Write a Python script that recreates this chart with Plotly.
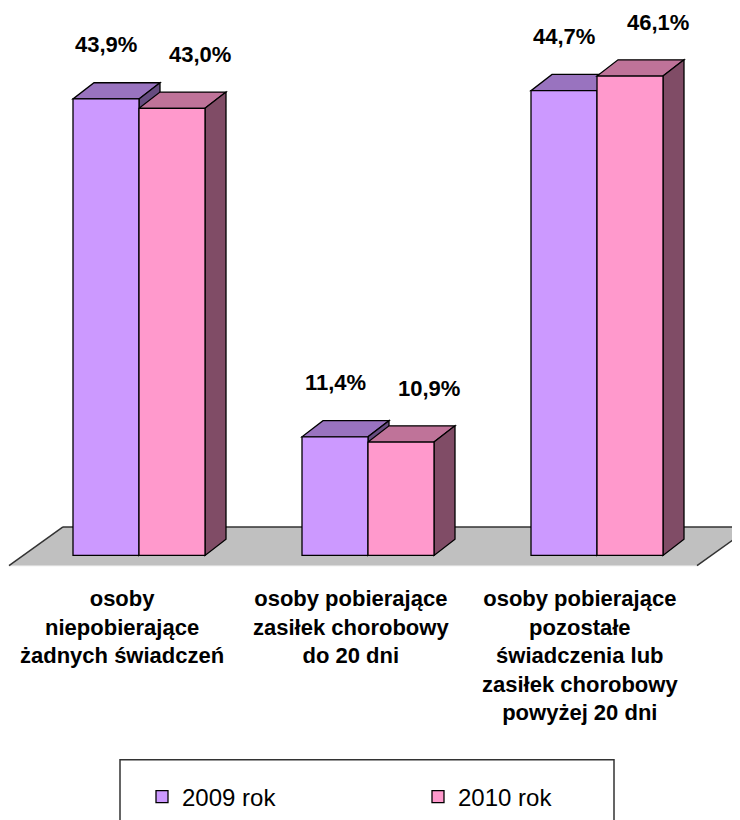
import plotly.graph_objects as go

# ---------------- data ----------------
categories = [
    "osoby<br>niepobierające<br>żadnych świadczeń",
    "osoby pobierające<br>zasiłek chorobowy<br>do 20 dni",
    "osoby pobierające<br>pozostałe<br>świadczenia lub<br>zasiłek chorobowy<br>powyżej 20 dni",
]
series_names = ["2009 rok", "2010 rok"]
values_2009 = [43.9, 11.4, 44.7]
values_2010 = [43.0, 10.9, 46.1]

# ---------------- geometry (screen pixels -> figure -> data units) ----------------
OFF = 8                       # page body margin
W, H = 740 - OFF, 820 - OFF
X0PX, XPX = 139.0 - OFF, 229.0    # figure pixel of first category, pixels per category
Y0PX, YPX = 565.0 - OFF, 10.58    # figure pixel of value 0, pixels per percent
xr = [(0 - X0PX) / XPX, (W - X0PX) / XPX]
yr = [-(H - Y0PX) / YPX, Y0PX / YPX]

BW = 66.0 / XPX               # bar width
DX = 21.0 / XPX               # depth offset x
DY = 16.5 / YPX               # depth offset y

front_cols = ["#CC99FF", "#FF99CC"]
top_cols = ["#9973BF", "#BF7399"]
side_cols = ["#664C80", "#804C66"]

def px2x(p):
    return (p - OFF - X0PX) / XPX

def py2y(p):
    return (Y0PX - (p - OFF)) / YPX

def ppx(p):
    return (p - OFF) / W

def ppy(p):
    return 1 - (p - OFF) / H

shapes = []
# floor
fy_front = py2y(575.5)
fy_back = py2y(536)
n = len(categories)
fxl_front = px2x(9)
fxl_back = px2x(63)
fxr_front = px2x(697)
fxr_back = px2x(751)
shapes.append(dict(type="path", layer="below", xref="x", yref="y",
                   path=f"M {fxl_front},{fy_front} L {fxr_front},{fy_front} L {fxr_back},{fy_back} L {fxl_back},{fy_back} Z",
                   fillcolor="#C0C0C0", line=dict(width=0)))
shapes.append(dict(type="line", layer="below", xref="x", yref="y",
                   x0=fxl_front, y0=fy_front, x1=fxr_front, y1=fy_front,
                   line=dict(color="#DDDDDD", width=1)))
for (xa, ya, xb, yb) in [(fxl_back, fy_back, fxr_back, fy_back),
                         (fxl_front, fy_front, fxl_back, fy_back),
                         (fxr_front, fy_front, fxr_back, fy_back)]:
    shapes.append(dict(type="line", layer="below", xref="x", yref="y",
                       x0=xa, y0=ya, x1=xb, y1=yb,
                       line=dict(color="#333333", width=1.5)))

series_vals = [values_2009, values_2010]
for i in range(n):
    for s, vals in enumerate(series_vals):
        v = vals[i]
        xl = i - BW + s * BW
        xrgt = xl + BW
        shapes.append(dict(type="path", layer="below", xref="x", yref="y",
                           path=f"M {xl},{v} L {xrgt},{v} L {xrgt+DX},{v+DY} L {xl+DX},{v+DY} Z",
                           fillcolor=top_cols[s], line=dict(color="black", width=1.3)))
        shapes.append(dict(type="path", layer="below", xref="x", yref="y",
                           path=f"M {xrgt},{v} L {xrgt+DX},{v+DY} L {xrgt+DX},{DY} L {xrgt},0 Z",
                           fillcolor=side_cols[s], line=dict(color="black", width=1.3)))

# legend frame (cut by the bottom of the picture)
shapes.append(dict(type="rect", xref="paper", yref="paper", layer="above",
                   x0=ppx(120), x1=ppx(614), y0=ppy(870), y1=ppy(773),
                   line=dict(color="#333333", width=1.5), fillcolor="rgba(0,0,0,0)"))

fig = go.Figure()
for s, vals in enumerate(series_vals):
    fig.add_trace(go.Bar(
        x=list(range(n)), y=vals, name=series_names[s],
        width=BW, offset=-BW + s * BW,
        marker=dict(color=front_cols[s], line=dict(color="black", width=1.3)),
        hoverinfo="skip",
    ))

annotations = []
label_font = dict(family="Liberation Sans Narrow, Arial Narrow, Liberation Sans, Arial", size=22, color="black")
lab_dx = [0.0, 28.0 / XPX]
lab_dy = 55.0 / YPX
for s, vals in enumerate(series_vals):
    for i, v in enumerate(vals):
        xc = i - BW + s * BW + BW / 2 + lab_dx[s]
        annotations.append(dict(x=xc, y=v + lab_dy, xref="x", yref="y",
                                text="<b>" + f"{v:.1f}".replace(".", ",") + "%</b>",
                                showarrow=False, font=label_font,
                                xanchor="center", yanchor="middle"))
for i, c in enumerate(categories):
    annotations.append(dict(x=i - 17.0 / XPX, y=ppy(594), xref="x", yref="paper",
                            text="<b>" + c + "</b>", showarrow=False,
                            font=dict(family="Liberation Sans, Arial", size=22, color="black"),
                            xanchor="center", yanchor="top", align="center"))

fig.update_layout(
    width=W, height=H,
    margin=dict(l=0, r=0, t=0, b=0),
    paper_bgcolor="white", plot_bgcolor="white",
    barmode="overlay",
    xaxis=dict(range=xr, visible=False, fixedrange=True),
    yaxis=dict(range=yr, visible=False, fixedrange=True),
    shapes=shapes,
    annotations=annotations,
    showlegend=True,
    legend=dict(orientation="h", x=ppx(142), y=ppy(788), xanchor="left", yanchor="top",
                font=dict(family="Liberation Sans, Arial", size=24, color="black"),
                bgcolor="rgba(0,0,0,0)", borderwidth=0,
                entrywidth=231, entrywidthmode="pixels", itemwidth=30),
)

fig.write_html("out.html")
